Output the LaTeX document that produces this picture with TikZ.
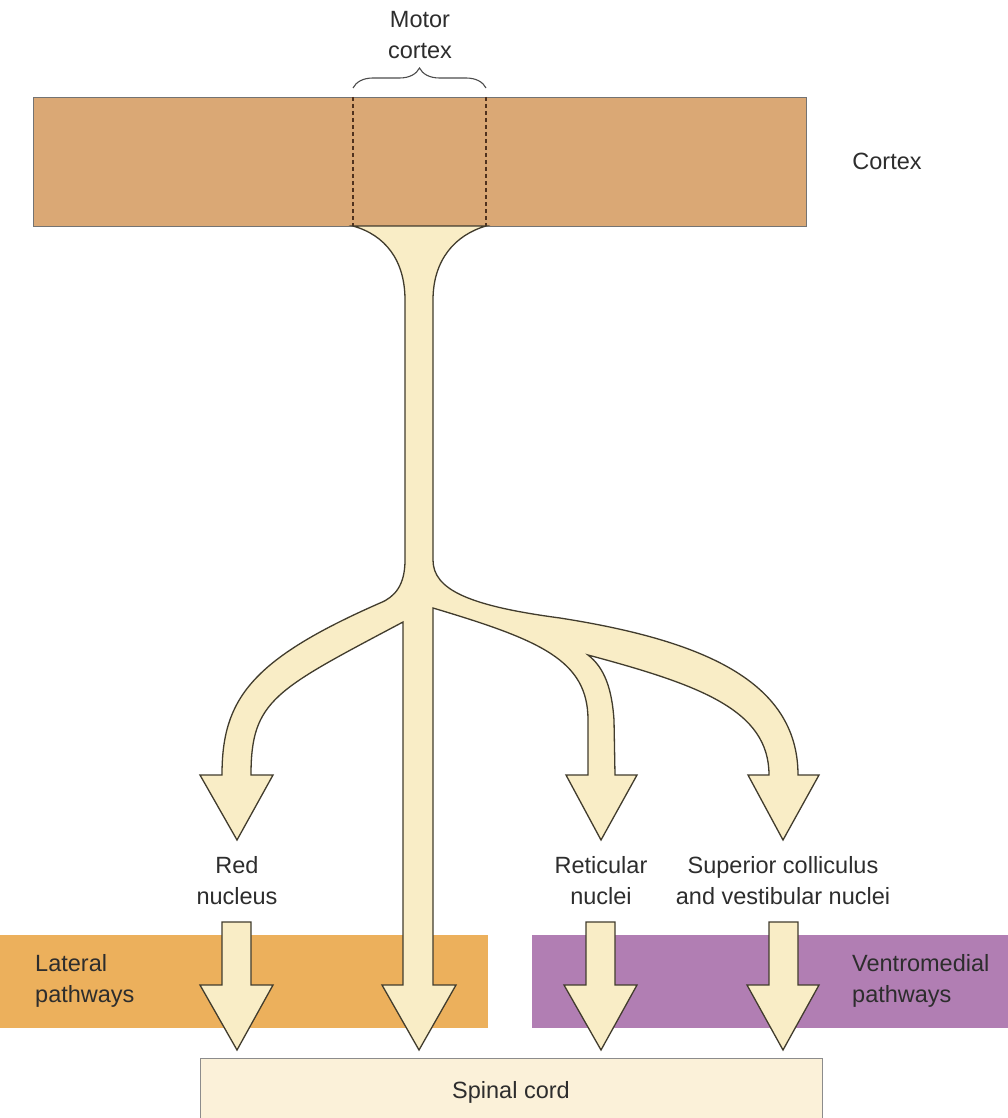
\documentclass[tikz,border=0pt]{standalone}
\usepackage{fontspec}
\setmainfont{Liberation Sans}
\usetikzlibrary{decorations.pathreplacing}
\definecolor{cortexc}{RGB}{218,168,117}
\definecolor{latc}{RGB}{236,176,92}
\definecolor{ventc}{RGB}{177,126,179}
\definecolor{creamc}{RGB}{249,237,198}
\definecolor{spinc}{RGB}{251,241,217}
\definecolor{edgec}{RGB}{65,60,45}
\definecolor{txtc}{RGB}{45,45,45}
\definecolor{dashc}{RGB}{80,50,30}
\begin{document}
\begin{tikzpicture}[x=1pt,y=-1pt,
  lbl/.style={font=\fontsize{23.5}{31}\selectfont, text=txtc, align=center, inner sep=0pt},
  lbll/.style={lbl, align=left, anchor=west},
  arrowshape/.style={fill=creamc, draw=edgec, line width=1.3pt, line join=miter},
  boxstyle/.style={rectangle, inner sep=0pt, outer sep=0pt}]
\useasboundingbox (0,0) rectangle (1008,1118);
\fill[white] (0,0) rectangle (1008,1118);

% boxes
\node[boxstyle, fill=cortexc, draw=black!55, line width=0.7pt, minimum width=773pt, minimum height=129pt] (cortex) at (419.5,161.5) {};
\node[boxstyle, fill=latc, minimum width=488pt, minimum height=93pt] (lateral) at (244,981.5) {};
\node[boxstyle, fill=ventc, minimum width=476pt, minimum height=93pt] (ventro) at (770,981.5) {};
\node[boxstyle, fill=spinc, minimum width=622pt, minimum height=60pt] (spinal) at (511,1088) {};
\draw[black!45, line width=0.9pt] (spinal.south west) -- (spinal.north west) -- (spinal.north east) -- (spinal.south east);

% motor cortex dashed region and brace
\draw[dashc, dashed, dash pattern=on 4pt off 3pt, line width=1.4pt] (353,97) -- (353,226);
\draw[dashc, dashed, dash pattern=on 4pt off 3pt, line width=1.4pt] (486,97) -- (486,226);
\draw[black!70, line width=1.1pt, decorate, decoration={brace, amplitude=20pt}] (353,88) -- (486,88);

% main branching pathway
\draw[arrowshape]
  (353,226) .. controls (385,235) and (405,260) .. (405,300)
  -- (405,560) .. controls (405,585) and (395,597) .. (380,603)
  .. controls (250,660) and (222,700) .. (222,775)
  -- (200,775) -- (237,840) -- (273,775) -- (251,775)
  .. controls (251,700) and (275,690) .. (403,622)
  -- (403,985) -- (382,985) -- (419,1050) -- (456,985) -- (433,985)
  -- (433,608)
  .. controls (540,640) and (588,660) .. (588,720) -- (588,775)
  -- (566,775) -- (601,840) -- (637,775) -- (615,775)
  -- (614,720) .. controls (612,690) and (605,668) .. (588,655)
  .. controls (700,685) and (769,710) .. (769,775)
  -- (748,775) -- (783,840) -- (819,775) -- (798,775)
  .. controls (798,680) and (700,640) .. (560,618)
  .. controls (470,606) and (433,590) .. (433,560)
  -- (433,300) .. controls (433,260) and (455,235) .. (486,226) -- cycle;

% short arrows into spinal cord
\draw[arrowshape] (222,922) -- (222,985) -- (200,985) -- (237,1050) -- (273,985) -- (251,985) -- (251,922) -- cycle;
\draw[arrowshape] (586,922) -- (586,985) -- (564,985) -- (601,1050) -- (637,985) -- (615,985) -- (615,922) -- cycle;
\draw[arrowshape] (769,922) -- (769,985) -- (747,985) -- (783,1050) -- (819,985) -- (798,985) -- (798,922) -- cycle;

% labels
\node[lbl] (motorlbl) at (420,35) {Motor\\cortex};
\node[lbl] (cortexlbl) at (887,161) {Cortex};
\node[lbl] (redlbl) at (237,881) {Red\\nucleus};
\node[lbl] (retlbl) at (601,881) {Reticular\\nuclei};
\node[lbl] (suplbl) at (783,881) {Superior colliculus\\and vestibular nuclei};
\node[lbll] (latlbl) at (35,981) {Lateral\\pathways};
\node[lbll] (ventlbl) at (852,981) {Ventromedial\\pathways};
\node[lbl] (spinlbl) at (511,1092) {Spinal cord};
\end{tikzpicture}
\end{document}
